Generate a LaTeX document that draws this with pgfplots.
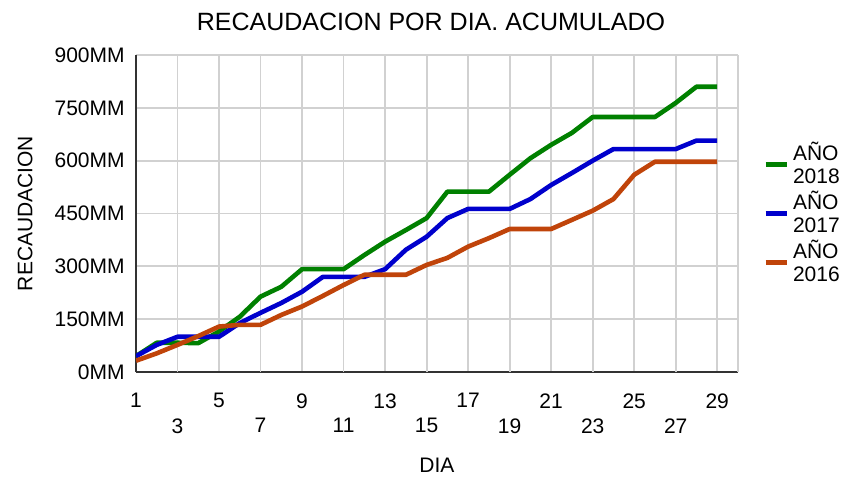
\documentclass[border=0pt]{standalone}
\usepackage{fontspec}
\setmainfont{Liberation Sans}
\usepackage{pgfplots}
\pgfplotsset{compat=1.18}
\definecolor{cG}{HTML}{008000}
\definecolor{cB}{HTML}{0000CC}
\definecolor{cO}{HTML}{C0440A}
\begin{document}
\fontsize{10.5}{12}\selectfont
\begin{tikzpicture}
\useasboundingbox (-68pt,-52pt) rectangle (354pt,186pt);
\begin{axis}[
  at={(0,0)}, anchor=south west,
  scale only axis, width=301pt, height=158.5pt,
  xmin=1, xmax=30, ymin=0, ymax=900,
  axis x line*=bottom, axis y line*=left,
  axis line style={draw=black!80, line width=1pt, -},
  xtick={1,5,9,13,17,21,25,29},
  xticklabels={1,5,9,13,17,21,25,29},
  extra x ticks={3,7,11,15,19,23,27,30},
  extra x tick labels={3,7,11,15,19,23,27,{}},
  extra x tick style={grid=major, xticklabel style={yshift=-12.5pt}},
  xticklabel style={yshift=-7pt},
  ytick={0,150,300,450,600,750,900},
  yticklabels={0MM,150MM,300MM,450MM,600MM,750MM,900MM},
  yticklabel style={xshift=-2pt},
  major tick length=0pt,
  grid=major,
  major grid style={draw=black!18, line width=0.9pt},
  /pgf/number format/assume math mode=true,
  tick label style={font=\fontsize{10.5}{12}\selectfont},
  title={RECAUDACION POR DIA. ACUMULADO},
  title style={at={(axis description cs:0.49,1.066)}, anchor=center, font=\fontsize{12.5}{14}\selectfont},
  xlabel={DIA},
  xlabel style={at={(axis description cs:0.5,-0.293)}, anchor=center},
  ylabel={RECAUDACION},
  ylabel style={at={(axis description cs:-0.184,0.5)}, anchor=center},
  legend style={draw=none, fill=none, at={(axis description cs:1.031,0.5)}, anchor=west,
    nodes={align=left, inner ysep=0.6pt, font=\fontsize{10.5}{11.5}\selectfont}, row sep=1pt},
  legend cell align=left,
  legend image code/.code={\draw[#1, line width=2.5pt] (0pt,0pt) -- (10.5pt,0pt);},
  every axis plot/.append style={line width=2.3pt, line join=round},
]
\addplot[cG, no marks] coordinates {
(1,45) (2,83) (3,83) (4,82) (5,115) (6,157) (7,214) (8,242) (9,292) (10,292)
(11,292) (12,332) (13,370) (14,403) (15,437) (16,512) (17,512) (18,512) (19,560) (20,607)
(21,645) (22,679) (23,724) (24,724) (25,724) (26,724) (27,764) (28,810) (29,810)};
\addlegendentry{AÑO\\2018}
\addplot[cB, no marks] coordinates {
(1,45) (2,77) (3,100) (4,100) (5,100) (6,139) (7,168) (8,196) (9,228) (10,270)
(11,270) (12,270) (13,292) (14,347) (15,384) (16,437) (17,463) (18,463) (19,463) (20,491)
(21,531) (22,565) (23,600) (24,633) (25,633) (26,633) (27,633) (28,657) (29,657)};
\addlegendentry{AÑO\\2017}
\addplot[cO, no marks] coordinates {
(1,32) (2,53) (3,77) (4,102) (5,129) (6,134) (7,134) (8,162) (9,186) (10,216)
(11,247) (12,276) (13,276) (14,276) (15,304) (16,324) (17,356) (18,380) (19,406) (20,406)
(21,406) (22,432) (23,458) (24,491) (25,560) (26,597) (27,597) (28,597) (29,597)};
\addlegendentry{AÑO\\2016}
\end{axis}
\end{tikzpicture}
\end{document}
